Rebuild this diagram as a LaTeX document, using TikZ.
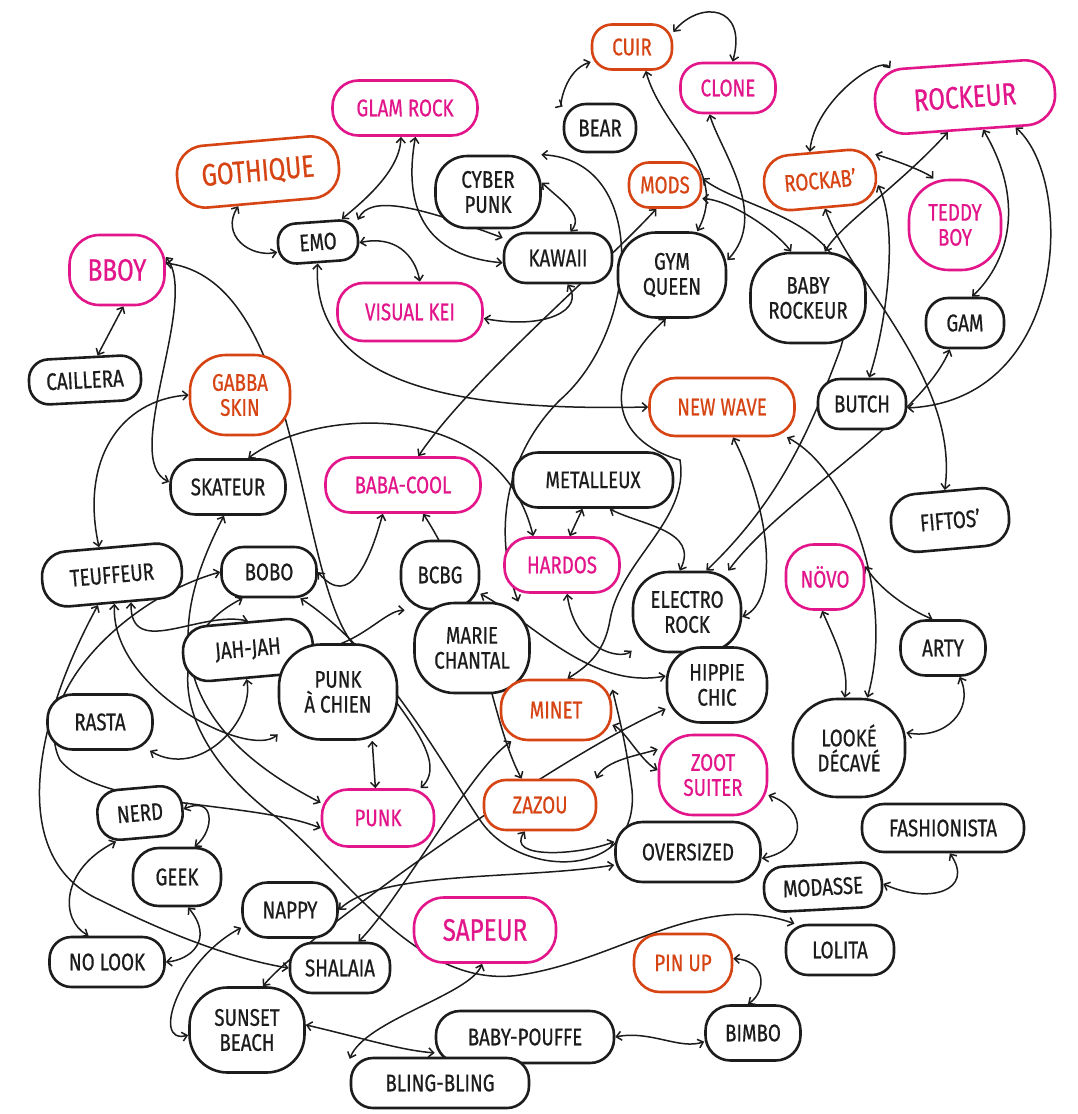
\documentclass[tikz,border=0pt]{standalone}
\usepackage{fontspec}
\setmainfont{Fira Sans}[FakeStretch=0.78,FakeBold=0.6]
\usetikzlibrary{arrows.meta}
\definecolor{pinkc}{RGB}{226,22,138}
\definecolor{orngc}{RGB}{214,68,20}
\definecolor{ink}{RGB}{28,28,28}
\newcommand{\handfont}{\fontsize{24}{25}\selectfont}
\newcommand{\bighand}{\fontsize{31}{32}\selectfont}
\pgfdeclarelayer{bg}
\pgfdeclarelayer{lines}
\pgfsetlayers{bg,lines,main}
\tikzset{
  base/.style={draw, fill=white, line width=2.6pt, align=center, font=\handfont, inner sep=2pt},
  pk/.style={base, draw=pinkc, text=pinkc},
  og/.style={base, draw=orngc, text=orngc},
  bk/.style={base, draw=ink, text=ink},
  nd/.style n args={3}{minimum width=#1, minimum height=#2, rounded corners=#3},
  c/.style={draw=ink, line width=1.5pt, <->, >={Straight Barb[length=5pt,width=9pt]}}
}
\begin{document}
\begin{tikzpicture}[x=1pt,y=1pt]
\begin{pgfonlayer}{bg}
\fill[white] (0,0) rectangle (1077,-1114);
\end{pgfonlayer}
\useasboundingbox (0,0) rectangle (1077,-1114);

% nodes
\node[og,nd={80}{45}{20}] (cuir) at (632,-47) {CUIR};
\node[pk,nd={95}{50}{22}] (clone) at (728,-88) {CLONE};
\node[pk,nd={145}{55}{26}] (glam) at (405,-108) {GLAM ROCK};
\node[bk,nd={72}{48}{22}] (bear) at (600,-128) {BEAR};
\node[pk,nd={180}{65}{30},rotate=4,font=\bighand] (rockeur) at (965,-97) {ROCKEUR};
\node[og,nd={162}{62}{28},rotate=5,font=\bighand] (gothique) at (258,-172) {GOTHIQUE};
\node[bk,nd={105}{72}{32}] (cyber) at (488,-192) {CYBER\\PUNK};
\node[og,nd={72}{45}{20}] (mods) at (665,-185) {MODS};
\node[og,nd={112}{55}{26},rotate=5] (rockab) at (820,-180) {ROCKAB’};
\node[pk,nd={92}{90}{40}] (teddy) at (955,-225) {TEDDY\\BOY};
\node[bk,nd={80}{40}{18},rotate=4] (emo) at (318,-242) {EMO};
\node[bk,nd={108}{50}{22}] (kawaii) at (558,-258) {KAWAII};
\node[pk,nd={95}{70}{30},font=\bighand] (bboy) at (117,-270) {BBOY};
\node[bk,nd={108}{85}{38}] (gym) at (672,-275) {GYM\\QUEEN};
\node[bk,nd={115}{90}{40}] (babyrock) at (808,-298) {BABY\\ROCKEUR};
\node[pk,nd={145}{58}{26}] (visual) at (410,-312) {VISUAL KEI};
\node[bk,nd={78}{50}{22}] (gam) at (965,-323) {GAM};
\node[bk,nd={112}{45}{20},rotate=3] (caillera) at (85,-380) {CAILLERA};
\node[og,nd={100}{80}{36}] (gabba) at (240,-395) {GABBA\\SKIN};
\node[og,nd={145}{58}{26}] (newwave) at (722,-407) {NEW WAVE};
\node[bk,nd={88}{50}{22}] (butch) at (862,-404) {BUTCH};
\node[bk,nd={115}{55}{25}] (skateur) at (228,-487) {SKATEUR};
\node[pk,nd={155}{55}{25}] (babacool) at (403,-485) {BABA-COOL};
\node[bk,nd={160}{55}{25}] (metal) at (593,-480) {METALLEUX};
\node[bk,nd={118}{58}{26},rotate=5] (fiftos) at (950,-520) {FIFTOS’};
\node[bk,nd={140}{55}{25},rotate=5] (teuffeur) at (112,-575) {TEUFFEUR};
\node[bk,nd={95}{50}{22}] (bobo) at (269,-572) {BOBO};
\node[bk,nd={78}{68}{30}] (bcbg) at (440,-575) {BCBG};
\node[pk,nd={115}{55}{25}] (hardos) at (562,-565) {HARDOS};
\node[bk,nd={108}{80}{36}] (electro) at (687,-612) {ELECTRO\\ROCK};
\node[pk,nd={78}{65}{28}] (novo) at (825,-577) {NÖVO};
\node[bk,nd={130}{55}{25},rotate=5] (jahjah) at (248,-650) {JAH-JAH};
\node[bk,nd={115}{90}{40}] (marie) at (472,-648) {MARIE\\CHANTAL};
\node[bk,nd={85}{55}{25}] (arty) at (943,-648) {ARTY};
\node[bk,nd={100}{75}{34}] (hippie) at (717,-685) {HIPPIE\\CHIC};
\node[bk,nd={105}{55}{25}] (rasta) at (100,-722) {RASTA};
\node[bk,nd={118}{95}{42}] (pac) at (338,-692) {PUNK\\À CHIEN};
\node[og,nd={110}{60}{27}] (minet) at (556,-710) {MINET};
\node[bk,nd={112}{98}{44}] (looke) at (849,-748) {LOOKÉ\\DÉCAVÉ};
\node[pk,nd={108}{80}{34}] (zoot) at (713,-775) {ZOOT\\SUITER};
\node[bk,nd={85}{50}{22},rotate=5] (nerd) at (140,-813) {NERD};
\node[pk,nd={112}{57}{26}] (punk) at (378,-818) {PUNK};
\node[og,nd={112}{50}{22}] (zazou) at (540,-805) {ZAZOU};
\node[bk,nd={162}{48}{22}] (fashion) at (943,-828) {FASHIONISTA};
\node[bk,nd={145}{60}{27}] (over) at (688,-852) {OVERSIZED};
\node[bk,nd={88}{58}{26}] (geek) at (177,-877) {GEEK};
\node[bk,nd={95}{55}{25}] (nappy) at (290,-910) {NAPPY};
\node[bk,nd={118}{45}{20},rotate=3] (modasse) at (823,-887) {MODASSE};
\node[pk,nd={142}{65}{30},font=\bighand] (sapeur) at (485,-930) {SAPEUR};
\node[bk,nd={108}{50}{22}] (lolita) at (840,-950) {LOLITA};
\node[og,nd={98}{58}{26}] (pinup) at (683,-963) {PIN UP};
\node[bk,nd={115}{50}{22}] (nolook) at (107,-962) {NO LOOK};
\node[bk,nd={100}{50}{22}] (shalaia) at (340,-968) {SHALAIA};
\node[bk,nd={115}{85}{38}] (sunset) at (247,-1030) {SUNSET\\BEACH};
\node[bk,nd={178}{52}{24}] (pouffe) at (525,-1037) {BABY-POUFFE};
\node[bk,nd={95}{55}{25}] (bimbo) at (753,-1033) {BIMBO};
\node[bk,nd={178}{50}{22}] (bling) at (440,-1083) {BLING-BLING};

\begin{pgfonlayer}{lines}
\draw[c] (cuir.200) .. controls (565,-70) and (560,-105) .. (bear.150);
\draw[c] (cuir.20) .. controls (700,0) and (748,-5) .. (clone.80);
\draw[c] (cuir.300) .. controls (662,-130) and (730,-170) .. (gym.60);
\draw[c] (clone.235) .. controls (720,-150) and (770,-215) .. (gym.15);
\draw[c] (glam.262) .. controls (400,-170) and (365,-200) .. (emo.40);
\draw[c] (glam.290) .. controls (405,-195) and (415,-255) .. (kawaii.185);
\draw[c] (gothique.235) .. controls (220,-235) and (250,-258) .. (emo.190);
\draw[c] (emo.355) .. controls (395,-235) and (415,-255) .. (visual.72);
\draw[c] (emo.25) .. controls (370,-195) and (415,-205) .. (kawaii.160);
\draw[c] (cyber.10) .. controls (560,-200) and (585,-215) .. (kawaii.65);
\draw[c] (cyber.35) .. controls (650,-160) and (640,-330) .. (560,-400) .. controls (500,-460) and (495,-540) .. (marie.45);
\draw[c] (kawaii.290) .. controls (585,-310) and (545,-330) .. (visual.355);
\draw[c] (mods.250) .. controls (600,-270) and (470,-380) .. (babacool.62);
\draw[c] (gym.262) .. controls (600,-380) and (610,-440) .. (680,-460) .. controls (690,-520) and (620,-560) .. (610,-620) .. controls (605,-650) and (590,-665) .. (minet.70);
\draw[c] (mods.340) .. controls (730,-200) and (775,-230) .. (babyrock.110);
\draw[c] (mods.10) .. controls (750,-215) and (880,-220) .. (840,-350) .. controls (810,-430) and (780,-500) .. (electro.65);
\draw[c] (rockeur.155) .. controls (880,-55) and (815,-100) .. (rockab.105);
\draw[c] (rockeur.240) .. controls (900,-185) and (840,-225) .. (babyrock.70);
\draw[c] (rockeur.295) .. controls (1025,-200) and (1010,-260) .. (gam.75);
\draw[c] (rockeur.325) .. controls (1075,-180) and (1070,-400) .. (butch.355);
\draw[c] (rockab.20) .. controls (910,-165) and (930,-175) .. (teddy.115);
\draw[c] (rockab.350) .. controls (900,-230) and (885,-330) .. (butch.75);
\draw[c] (rockab.275) .. controls (850,-280) and (960,-380) .. (fiftos.95);
\draw[c] (gam.240) .. controls (920,-420) and (780,-500) .. (electro.45);
\draw[c] (newwave.290) .. controls (770,-510) and (780,-600) .. (electro.355);
\draw[c] (newwave.335) .. controls (850,-470) and (895,-600) .. (looke.70);
\draw[c] (emo.265) .. controls (310,-400) and (500,-410) .. (newwave.180);
\draw[c] (skateur.55) .. controls (320,-405) and (500,-400) .. (hardos.135);
\draw[c] (metal.250) -- (hardos.75);
\draw[c] (metal.300) .. controls (640,-525) and (700,-530) .. (electro.100);
\draw[c] (hardos.280) .. controls (575,-650) and (620,-660) .. (electro.215);
\draw[c] (bcbg.335) .. controls (530,-620) and (590,-690) .. (hippie.170);
\draw[c] (jahjah.355) .. controls (360,-645) and (385,-610) .. (bcbg.225);
\draw[c] (jahjah.320) -- (pac.135);
\draw[c] (teuffeur.300) .. controls (130,-660) and (200,-610) .. (jahjah.85);
\draw[c] (teuffeur.270) .. controls (110,-690) and (250,-760) .. (pac.215);
\draw[c] (gabba.180) .. controls (120,-400) and (80,-460) .. (teuffeur.110);
\draw[c] (bboy.280) -- (caillera.60);
\draw[c] (bboy.15) .. controls (200,-300) and (120,-460) .. (skateur.175);
\draw[c] (bboy.8) .. controls (300,-280) and (295,-560) .. (350,-640) .. controls (400,-710) and (450,-760) .. (punk.35);
\draw[c] (bobo.0) .. controls (350,-610) and (370,-560) .. (babacool.235);
\draw[c] (teuffeur.240) .. controls (30,-730) and (10,-860) .. (100,-900) .. controls (180,-940) and (240,-960) .. (shalaia.180);
\draw[c] (bobo.180) .. controls (120,-600) and (30,-700) .. (60,-760) .. controls (100,-810) and (250,-800) .. (punk.190);
\draw[c] (skateur.262) .. controls (170,-620) and (160,-720) .. (punk.165);
\draw[c] (bobo.225) .. controls (160,-640) and (170,-740) .. (280,-820) .. controls (350,-880) and (420,-990) .. (520,-975) .. controls (620,-960) and (700,-890) .. (lolita.150);
\draw[c] (rasta.330) .. controls (200,-780) and (255,-720) .. (jahjah.262);
\draw[c] (pac.305) -- (punk.95);
\draw[c] (nappy.0) .. controls (380,-870) and (520,-880) .. (over.190);
\draw[c] (nappy.200) .. controls (180,-960) and (150,-1045) .. (sunset.185);
\draw[c] (sunset.70) .. controls (300,-940) and (550,-760) .. (hippie.205);
\draw[c] (shalaia.55) .. controls (400,-900) and (470,-770) .. (minet.215);
\draw[c] (sunset.5) .. controls (370,-1040) and (400,-1050) .. (pouffe.190);
\draw[c] (pouffe.0) .. controls (650,-1030) and (680,-1050) .. (bimbo.190);
\draw[c] (bimbo.100) .. controls (768,-990) and (765,-960) .. (pinup.5);
\draw[c] (sapeur.265) .. controls (470,-995) and (365,-1020) .. (bling.165);
\draw[c] (minet.345) .. controls (625,-730) and (640,-760) .. (zoot.175);
\draw[c] (zazou.25) .. controls (605,-760) and (640,-755) .. (zoot.155);
\draw[c] (zoot.340) .. controls (810,-810) and (805,-850) .. (over.355);
\draw[c] (zazou.240) .. controls (505,-860) and (580,-855) .. (over.172);
\draw[c] (bobo.320) .. controls (380,-650) and (440,-760) .. (480,-820) .. controls (520,-880) and (640,-880) .. (632,-790) .. controls (628,-760) and (625,-740) .. (minet.20);
\draw[c] (modasse.0) .. controls (930,-905) and (975,-890) .. (fashion.285);
\draw[c] (novo.15) .. controls (880,-590) and (910,-610) .. (arty.110);
\draw[c] (novo.265) .. controls (835,-640) and (850,-670) .. (looke.95);
\draw[c] (arty.300) .. controls (975,-710) and (945,-740) .. (looke.15);
\draw[c] (nerd.0) .. controls (215,-795) and (215,-830) .. (geek.60);
\draw[c] (nerd.225) .. controls (60,-870) and (60,-920) .. (nolook.125);
\draw[c] (geek.290) .. controls (215,-940) and (190,-960) .. (nolook.0);
\draw[c] (babacool.305) .. controls (480,-600) and (490,-720) .. (zazou.125);
\end{pgfonlayer}
\end{tikzpicture}
\end{document}
